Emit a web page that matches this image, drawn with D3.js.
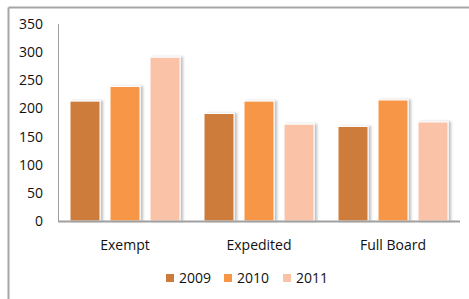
<!DOCTYPE html>
<html>
<head>
<meta charset="utf-8">
<style>
  body { margin: 0; background: #fff; }
  text { font-family: "Open Sans", Lato, sans-serif; fill: #111; }
</style>
</head>
<body>
<div id="container"></div>
<script src="https://cdn.jsdelivr.net/npm/d3@7"></script>
<script>
    // Data
    let categories = ["Exempt", "Expedited", "Full Board"];
    let years = ["2009", "2010", "2011"];
    let values2009 = [213, 191, 168];
    let values2010 = [239, 213, 215];
    let values2011 = [291, 172, 176];
    let yTicks = [0, 50, 100, 150, 200, 250, 300, 350];
    let colors = ["#CD7B3A", "#F79646", "#FAC3A8"];

    let series = [values2009, values2010, values2011];

    let W = 469, H = 299;
    let margin = { top: 24, right: 9, bottom: 78, left: 58 };

    let svg = d3.select("#container")
        .append("svg")
        .attr("width", W)
        .attr("height", H);

    // soft shadow for bars
    let defs = svg.append("defs");
    let f = defs.append("filter").attr("id", "shadow")
        .attr("x", "-20%").attr("y", "-5%").attr("width", "150%").attr("height", "110%");
    f.append("feDropShadow")
        .attr("dx", 2.5).attr("dy", 0).attr("stdDeviation", 1.2)
        .attr("flood-color", "#000").attr("flood-opacity", 0.25);

    // chart frame (only top and left edges visible)
    svg.append("line").attr("x1", 8.5).attr("x2", W).attr("y1", 7.5).attr("y2", 7.5)
        .attr("stroke", "#a6a6a6").attr("stroke-width", 2);
    svg.append("line").attr("x1", 8.5).attr("x2", 8.5).attr("y1", 7.5).attr("y2", H)
        .attr("stroke", "#a6a6a6").attr("stroke-width", 2);

    let x0 = d3.scaleBand()
        .domain(categories)
        .range([margin.left, W - margin.right]);

    let x1 = d3.scaleBand()
        .domain(years)
        .range([12, x0.bandwidth() - 12])
        .paddingInner(0.25);

    let y = d3.scaleLinear()
        .domain([0, 350])
        .range([H - margin.bottom, margin.top]);

    // bars
    years.forEach((yr, si) => {
        svg.append("g")
            .selectAll("rect")
            .data(categories)
            .enter()
            .append("rect")
            .attr("x", (d) => x0(d) + x1(yr))
            .attr("y", (d, i) => y(series[si][i]))
            .attr("width", x1.bandwidth())
            .attr("height", (d, i) => y(0) - y(series[si][i]))
            .attr("fill", colors[si])
            .attr("stroke", "#fff")
            .attr("stroke-width", 1)
            .attr("filter", "url(#shadow)");
    });

    // axes
    svg.append("line")
        .attr("x1", margin.left + 0.5).attr("x2", margin.left + 0.5)
        .attr("y1", y(350)).attr("y2", y(0))
        .attr("stroke", "#a0a0a0").attr("stroke-width", 1);
    svg.append("line")
        .attr("x1", margin.left).attr("x2", W - margin.right)
        .attr("y1", y(0) + 0.5).attr("y2", y(0) + 0.5)
        .attr("stroke", "#a0a0a0").attr("stroke-width", 2);

    svg.selectAll(".ytick")
        .data(yTicks)
        .enter()
        .append("text")
        .attr("x", 43)
        .attr("y", (d) => y(d))
        .attr("dy", "0.36em")
        .attr("text-anchor", "end")
        .attr("font-size", 14)
        .text((d) => d);

    svg.selectAll(".xlab")
        .data(categories)
        .enter()
        .append("text")
        .attr("x", (d) => x0(d) + x0.bandwidth() / 2)
        .attr("y", 245)
        .attr("dy", "0.36em")
        .attr("text-anchor", "middle")
        .attr("font-size", 14)
        .text((d) => d);

    // legend
    let legendX = [166, 224, 283];
    let legend = svg.selectAll(".leg")
        .data(years)
        .enter()
        .append("g")
        .attr("transform", (d, i) => `translate(${legendX[i]}, 278)`);
    legend.append("rect")
        .attr("x", 0).attr("y", -4)
        .attr("width", 8).attr("height", 8)
        .attr("fill", (d, i) => colors[i]);
    legend.append("text")
        .attr("x", 13)
        .attr("y", 0)
        .attr("dy", "0.36em")
        .attr("font-size", 14)
        .text((d) => d);
</script>
</body>
</html>
